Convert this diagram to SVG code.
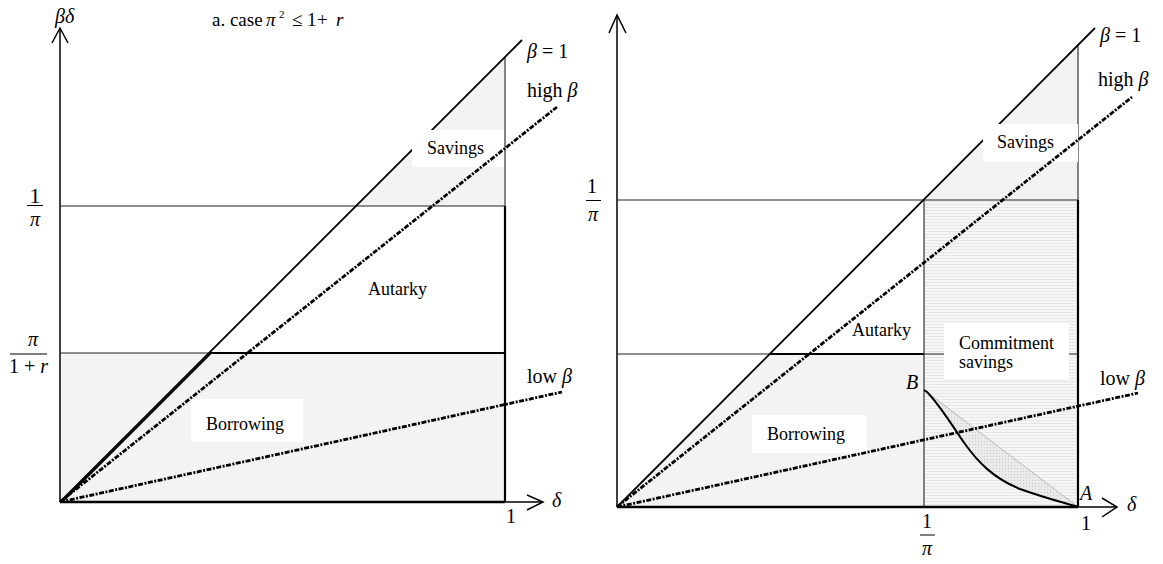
<svg xmlns="http://www.w3.org/2000/svg" width="1163" height="564" viewBox="0 0 1163 564">
<style>
.t{font-family:"Liberation Serif","Times New Roman",serif;fill:#000}
.lab{font-size:18px}
.m{font-size:20px}
.i{font-style:italic}
.ax{stroke:#000;fill:none;stroke-width:1.5}
.thin{stroke:#222;stroke-width:1.1;fill:none}
.thick{stroke:#000;stroke-width:2.2;fill:none}
.b1{stroke:#000;stroke-width:1.8;fill:none}
.dd{stroke:#000;stroke-width:2.8;fill:none;stroke-dasharray:5 1.5 2 1.5}
.fill{fill:#f3f3f3}
.wbox{fill:#fff}
</style>
<defs>
<pattern id="hl" width="4" height="3" patternUnits="userSpaceOnUse">
<rect width="4" height="3" fill="#f6f6f6"/>
<line x1="0" y1="0.5" x2="4" y2="0.5" stroke="#e6e6e6" stroke-width="1"/>
</pattern>
<pattern id="hx" width="3" height="3" patternUnits="userSpaceOnUse">
<rect width="3" height="3" fill="#ebebeb"/>
<rect width="1" height="1" fill="#c8c8c8"/>
</pattern>
</defs>

<!-- LEFT PANEL -->
<g id="left-regions">
<rect class="fill" x="60" y="353" width="445" height="149"/>
<polygon class="fill" points="356,206 505,206 505,57"/>
</g>
<g id="left-axes">
<line class="ax" x1="60" y1="502" x2="60" y2="29"/>
<polyline class="ax" points="52,43 60,28 68,43"/>
<line x1="60" y1="502" x2="505" y2="502" stroke="#000" stroke-width="2.5"/>
<line class="ax" x1="505" y1="502" x2="543" y2="502"/>
<polyline class="ax" points="527,495 543,502 527,510"/>
</g>
<g id="left-connectors">
<line class="thin" x1="60" y1="206" x2="505" y2="206"/>
<line class="thin" x1="60" y1="353" x2="505" y2="353"/>
<line class="thick" x1="209" y1="353" x2="505" y2="353"/>
<line class="thin" x1="505" y1="57" x2="505" y2="206"/>
<line class="thick" x1="505" y1="206" x2="505" y2="502"/>
<line class="b1" x1="60" y1="502" x2="522" y2="40"/>
<line class="b1" x1="62" y1="502" x2="211" y2="353" stroke-width="1"/>
</g>
<g id="left-boxes">
<rect class="wbox" x="412" y="130" width="92" height="37"/>
<rect class="wbox" x="191" y="399" width="112" height="43"/>
</g>
<g id="left-betas">
<line class="dd" x1="60" y1="502" x2="557" y2="107"/>
<line class="dd" x1="60" y1="502" x2="562" y2="392"/>
</g>
<g id="left-labels">
<text class="t m i" x="55" y="23">βδ</text>
<text class="t" x="212" y="26" font-size="19">a. case <tspan class="i" x="266">π</tspan><tspan x="279" y="18" font-size="11">2</tspan><tspan x="292" y="26">≤</tspan><tspan x="307">1</tspan><tspan x="317">+</tspan><tspan class="i" x="336">r</tspan></text>
<text class="t m" x="527" y="58"><tspan class="i">β</tspan> = 1</text>
<text class="t m" x="527" y="97">high <tspan class="i">β</tspan></text>
<text class="t m" x="527" y="383">low <tspan class="i">β</tspan></text>
<text class="t lab" x="427" y="154">Savings</text>
<text class="t lab" x="368" y="295">Autarky</text>
<text class="t lab" x="206" y="430">Borrowing</text>
<text class="t" x="35" y="203" font-size="22" text-anchor="middle">1</text>
<line x1="27" y1="205.5" x2="43" y2="205.5" stroke="#000" stroke-width="1"/>
<text class="t m i" x="35" y="226" text-anchor="middle">π</text>
<text class="t m i" x="33" y="346" text-anchor="middle">π</text>
<line x1="10" y1="354" x2="47" y2="354" stroke="#000" stroke-width="1"/>
<text class="t m" x="28.5" y="373" text-anchor="middle">1 + <tspan class="i">r</tspan></text>
<text class="t m" x="511" y="523" text-anchor="middle">1</text>
<text class="t m i" x="552" y="507">δ</text>
</g>

<!-- RIGHT PANEL -->
<g id="right-regions">
<polygon class="fill" points="617,507 770,354 924,354 924,507"/>
<polygon class="fill" points="924,200 1078,200 1078,46"/>
<rect x="924" y="200" width="154" height="307" fill="url(#hl)"/>
<path d="M924,390 L927,392 C940,405 955,430 965,444 C978,462 993,478 1020,489 C1045,498 1065,503 1078,507 Z" fill="url(#hx)"/>
</g>
<g id="right-axes">
<line class="ax" x1="617" y1="507" x2="617" y2="16"/>
<polyline class="ax" points="609,33 617,15 626,33"/>
<line x1="617" y1="507" x2="1078" y2="507" stroke="#000" stroke-width="2.5"/>
<line class="ax" x1="1078" y1="507" x2="1117" y2="507"/>
<polyline class="ax" points="1102,498 1117,507 1102,517"/>
</g>
<g id="right-connectors">
<line class="thin" x1="617" y1="200" x2="1078" y2="200"/>
<line class="thin" x1="617" y1="354" x2="1078" y2="354"/>
<line class="thick" x1="770" y1="354" x2="924" y2="354"/>
<line class="thin" x1="924" y1="200" x2="924" y2="507" stroke-width="1.5"/>
<line class="thin" x1="1078" y1="46" x2="1078" y2="200" stroke-width="1.6"/>
<line class="thick" x1="1078" y1="200" x2="1078" y2="507"/>
<line class="b1" x1="617" y1="507" x2="1095" y2="28"/>
<line x1="924" y1="390" x2="1078" y2="507" stroke="#aaa" stroke-width="0.8"/>
<path d="M924,390 L927,392 C940,405 955,430 965,444 C978,462 993,478 1020,489 C1045,498 1065,503 1078,507" fill="none" stroke="#000" stroke-width="2"/>
</g>
<g id="right-boxes">
<rect class="wbox" x="983" y="124" width="95" height="38"/>
<rect class="wbox" x="944" y="324" width="125" height="55"/>
<rect class="wbox" x="752" y="415" width="115" height="38"/>
</g>
<g id="right-betas">
<line class="dd" x1="617" y1="507" x2="1132" y2="97"/>
<line class="dd" x1="617" y1="507" x2="1138" y2="393"/>
</g>
<g id="right-labels">
<text class="t m" x="1100" y="42"><tspan class="i">β</tspan> = 1</text>
<text class="t m" x="1098" y="86">high <tspan class="i">β</tspan></text>
<text class="t m" x="1100" y="385">low <tspan class="i">β</tspan></text>
<text class="t lab" x="997" y="148">Savings</text>
<text class="t lab" x="852" y="336">Autarky</text>
<text class="t lab" x="767" y="440">Borrowing</text>
<text class="t lab" x="959" y="349">Commitment</text>
<text class="t lab" x="959" y="368">savings</text>
<text class="t m i" x="906" y="389">B</text>
<text class="t m i" x="1080" y="500">A</text>
<text class="t m i" x="1127" y="511">δ</text>
<text class="t m" x="1086" y="530" text-anchor="middle">1</text>
<text class="t m" x="592" y="193" text-anchor="middle">1</text>
<line x1="586" y1="200.5" x2="601" y2="200.5" stroke="#000" stroke-width="1"/>
<text class="t m i" x="593" y="221" text-anchor="middle">π</text>
<text class="t m" x="927" y="528" text-anchor="middle">1</text>
<line x1="920" y1="535" x2="935" y2="535" stroke="#000" stroke-width="1"/>
<text class="t m i" x="927" y="555" text-anchor="middle">π</text>
</g>
</svg>
